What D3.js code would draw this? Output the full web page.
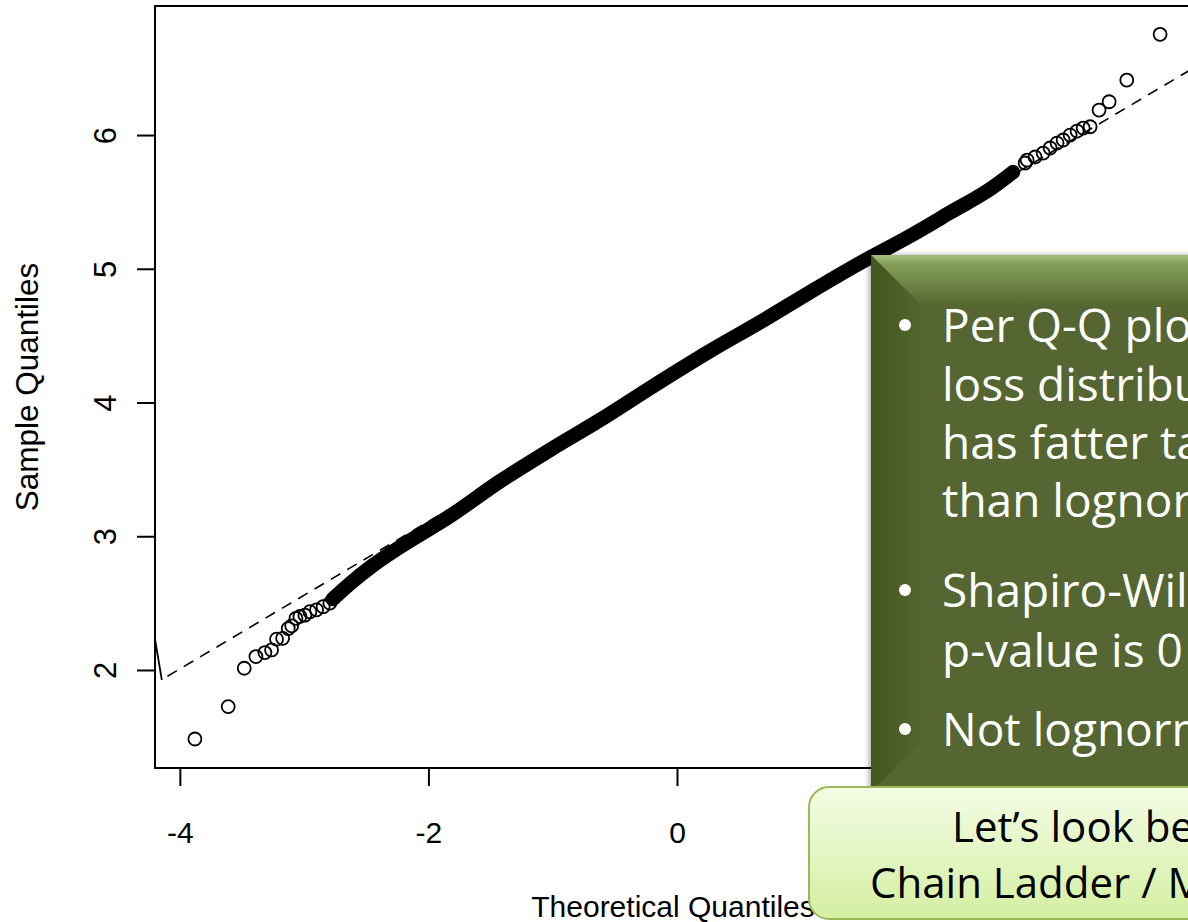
<!DOCTYPE html>
<html>
<head>
<meta charset="utf-8">
<script src="https://cdn.jsdelivr.net/npm/d3@7"></script>
<style>
  html, body { margin: 0; padding: 0; background: #fff; }
  svg { display: block; }
</style>
</head>
<body>
<svg class="svg-main" width="1188" height="922"></svg>
<script>
// ticks
const xTicks = [-4, -2, 0, 2, 4];
const yTicks = [2, 3, 4, 5, 6];

// lower tail, single circles (theoretical, sample)
const lowTheo   = [-3.879, -3.611, -3.482, -3.388, -3.316, -3.262, -3.222, -3.173, -3.128, -3.10, -3.066, -3.034, -2.994, -2.954, -2.90, -2.847, -2.793];
const lowSample = [1.484, 1.726, 2.013, 2.10, 2.13, 2.15, 2.23, 2.237, 2.31, 2.33, 2.386, 2.40, 2.41, 2.436, 2.45, 2.473, 2.50];

// dense body of the sample, read along the centre of the black band
const bodyTheo   = [-2.77, -2.632, -2.45, -2.229, -1.827, -1.425, -1.022, -0.620, -0.217, 0.266, 0.668, 1.070, 1.473, 1.875, 2.197, 2.543, 2.704];
const bodySample = [2.53, 2.645, 2.780, 2.920, 3.150, 3.410, 3.645, 3.869, 4.108, 4.385, 4.600, 4.825, 5.043, 5.245, 5.420, 5.611, 5.723];

// upper tail, single circles
const highTheo   = [2.801, 2.817, 2.881, 2.946, 3.002, 3.058, 3.107, 3.163, 3.219, 3.268, 3.324, 3.396, 3.477, 3.619, 3.887];
const highSample = [5.791, 5.813, 5.836, 5.865, 5.903, 5.940, 5.963, 6.000, 6.030, 6.052, 6.062, 6.187, 6.249, 6.411, 6.753];

// qqline ends, and the short solid stroke at the left edge
const refTheo   = [-4.10, 4.20];
const refSample = [1.953, 6.526];
const edgeTheo   = [-4.20, -4.145];
const edgeSample = [2.23, 1.925];

// slide text
const noteLines = [
  {text: "Per Q-Q plot, the", bullet: true},
  {text: "loss distribution", bullet: false},
  {text: "has fatter tails", bullet: false},
  {text: "than lognormal", bullet: false},
  {text: "Shapiro-Wilk test", bullet: true},
  {text: "p-value is 0", bullet: false},
  {text: "Not lognormal", bullet: true}
];
const noteBaselines = [342, 401, 459, 517, 607, 667, 746];
const callLines = ["Let\u2019s look beyond", "Chain Ladder / Mack"];

const svg = d3.select(".svg-main");

const pLeft = 155, pRight = 1199, pTop = 6, pBottom = 768;

const x = d3.scaleLinear().domain([-4.2, 4.2]).range([pLeft, pRight]);
const y = d3.scaleLinear().domain([1.267, 6.965]).range([pBottom, pTop]);

const defs = svg.append("defs");
defs.append("clipPath").attr("id", "plotclip")
  .append("rect")
    .attr("x", pLeft).attr("y", pTop)
    .attr("width", pRight - pLeft).attr("height", pBottom - pTop);

const zip = (a, b) => a.map((v, i) => [v, b[i]]);
const line = d3.line().x(d => x(d[0])).y(d => y(d[1]));
const bandLine = d3.line().x(d => x(d[0])).y(d => y(d[1])).curve(d3.curveMonotoneX);

const plot = svg.append("g").attr("clip-path", "url(#plotclip)");

// qqline
plot.append("path")
  .attr("d", line(zip(refTheo, refSample)))
  .attr("fill", "none")
  .attr("stroke", "#000")
  .attr("stroke-width", 1.6)
  .attr("stroke-dasharray", "11,8");

plot.append("path")
  .attr("d", line(zip(edgeTheo, edgeSample)))
  .attr("fill", "none")
  .attr("stroke", "#000")
  .attr("stroke-width", 1.8);

// thousands of overlapping circles make a solid band
plot.append("path")
  .attr("d", bandLine(zip(bodyTheo, bodySample)))
  .attr("fill", "none")
  .attr("stroke", "#000")
  .attr("stroke-width", 14.5)
  .attr("stroke-linecap", "round")
  .attr("stroke-linejoin", "round");

plot.selectAll("circle.pt")
  .data(zip(lowTheo, lowSample).concat(zip(highTheo, highSample)))
  .enter().append("circle")
    .attr("class", "pt")
    .attr("cx", d => x(d[0]))
    .attr("cy", d => y(d[1]))
    .attr("r", 6.5)
    .attr("fill", "none")
    .attr("stroke", "#000")
    .attr("stroke-width", 1.8);

// frame + axes, R style
svg.append("rect")
  .attr("x", pLeft).attr("y", pTop)
  .attr("width", pRight - pLeft).attr("height", pBottom - pTop)
  .attr("fill", "none")
  .attr("stroke", "#000")
  .attr("stroke-width", 2);

const font = "'Liberation Sans', Arial, Helvetica, sans-serif";

const xAxis = svg.append("g")
  .attr("transform", `translate(0,${pBottom})`)
  .call(d3.axisBottom(x).tickValues(xTicks).tickSize(18).tickPadding(36).tickFormat(d => String(d)));
xAxis.select(".domain").remove();
xAxis.selectAll("line").attr("stroke-width", 2);
xAxis.selectAll("text")
  .attr("font-family", font)
  .attr("font-size", 30)
  .attr("fill", "#000");

const yAxis = svg.append("g")
  .attr("transform", `translate(${pLeft},0)`)
  .call(d3.axisLeft(y).tickValues(yTicks).tickSize(18).tickFormat(d => String(d)));
yAxis.select(".domain").remove();
yAxis.selectAll("line").attr("stroke-width", 2);
yAxis.selectAll("text")
  .attr("x", null).attr("dy", null)
  .attr("transform", "translate(-39,0) rotate(-90)")
  .attr("text-anchor", "middle")
  .attr("font-family", font)
  .attr("font-size", 31)
  .attr("fill", "#000");

svg.append("text")
  .attr("x", (pLeft + pRight) / 2 - 4)
  .attr("y", 917)
  .attr("text-anchor", "middle")
  .attr("font-family", font)
  .attr("font-size", 30)
  .text("Theoretical Quantiles");

svg.append("text")
  .attr("transform", `translate(38,${(pTop + pBottom) / 2}) rotate(-90)`)
  .attr("text-anchor", "middle")
  .attr("font-family", font)
  .attr("font-size", 31.5)
  .text("Sample Quantiles");

// ---- slide overlays ----
const shadow = defs.append("filter").attr("id", "shadow")
  .attr("x", "-10%").attr("y", "-10%").attr("width", "120%").attr("height", "120%");
shadow.append("feDropShadow")
  .attr("dx", -1).attr("dy", 1)
  .attr("stdDeviation", 3)
  .attr("flood-color", "#000")
  .attr("flood-opacity", 0.45);

const topBevel = defs.append("linearGradient").attr("id", "topBevel")
  .attr("x1", 0).attr("y1", 0).attr("x2", 0).attr("y2", 1);
topBevel.append("stop").attr("offset", "0%").attr("stop-color", "#a6be7c");
topBevel.append("stop").attr("offset", "16%").attr("stop-color", "#86a05a");
topBevel.append("stop").attr("offset", "100%").attr("stop-color", "#546630");

const leftBevel = defs.append("linearGradient").attr("id", "leftBevel")
  .attr("x1", 0).attr("y1", 0).attr("x2", 1).attr("y2", 0);
leftBevel.append("stop").attr("offset", "0%").attr("stop-color", "#44561f");
leftBevel.append("stop").attr("offset", "100%").attr("stop-color", "#546630");

const bx0 = 871, by0 = 255, bx1 = 1200, by1 = 792, bev = 52;

const note = svg.append("g");
note.append("rect")
  .attr("x", bx0).attr("y", by0)
  .attr("width", bx1 - bx0).attr("height", by1 - by0)
  .attr("fill", "#546630")
  .attr("filter", "url(#shadow)");
note.append("polygon")
  .attr("points", [[bx0, by0], [bx1, by0], [bx1, by0 + bev], [bx0 + bev, by0 + bev]].join(" "))
  .attr("fill", "url(#topBevel)");
note.append("polygon")
  .attr("points", [[bx0, by0], [bx0 + bev, by0 + bev], [bx0 + bev, by1 - bev], [bx0, by1]].join(" "))
  .attr("fill", "url(#leftBevel)");
note.append("rect")
  .attr("x", bx0).attr("y", by1 - 4)
  .attr("width", bx1 - bx0).attr("height", 4)
  .attr("fill", "#6f8644");

note.selectAll("text.note")
  .data(noteLines)
  .enter().append("text")
    .attr("class", "note")
    .attr("x", 942)
    .attr("y", (d, i) => noteBaselines[i])
    .attr("font-family", "'Open Sans', 'Noto Sans', sans-serif")
    .attr("font-size", 46)
    .attr("fill", "#fff")
    .text(d => d.text);

note.selectAll("circle.bullet")
  .data(noteLines.map((d, i) => ({b: d.bullet, y: noteBaselines[i]})).filter(d => d.b))
  .enter().append("circle")
    .attr("class", "bullet")
    .attr("cx", 905)
    .attr("cy", d => d.y - 17)
    .attr("r", 6)
    .attr("fill", "#fff");

const callGrad = defs.append("linearGradient").attr("id", "callGrad")
  .attr("x1", 0).attr("y1", 0).attr("x2", 0).attr("y2", 1);
callGrad.append("stop").attr("offset", "0%").attr("stop-color", "#f3fce4");
callGrad.append("stop").attr("offset", "100%").attr("stop-color", "#d4efa2");

svg.append("rect")
  .attr("x", 809).attr("y", 787)
  .attr("width", 420).attr("height", 132)
  .attr("rx", 20).attr("ry", 20)
  .attr("fill", "url(#callGrad)")
  .attr("stroke", "#98b954")
  .attr("stroke-width", 2);

svg.selectAll("text.call")
  .data(callLines)
  .enter().append("text")
    .attr("class", "call")
    .attr("x", (d, i) => i === 0 ? 952 : 870)
    .attr("y", (d, i) => i === 0 ? 842 : 898)
    .attr("font-family", "'Open Sans', 'Noto Sans', sans-serif")
    .attr("font-size", 42)
    .attr("fill", "#000")
    .text(d => d);
</script>
</body>
</html>
